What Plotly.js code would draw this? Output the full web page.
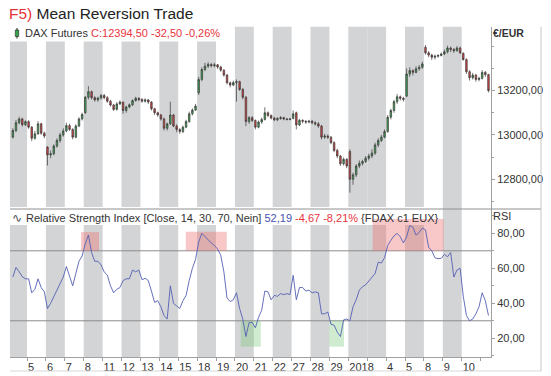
<!DOCTYPE html>
<html>
<head>
<meta charset="utf-8">
<script src="https://cdn.plot.ly/plotly-3.0.1.min.js"></script>
<style>html,body{margin:0;padding:0;background:#fff;}#chart{width:551px;height:376px;}</style>
</head>
<body>
<div id="chart"></div>
<script>
// ---- data ----
// session days (Dec 4 2017 ... Jan 11 2018); label shown on axis ('' = no label)
const dayLabels = ['','5','6','7','8','11','12','13','14','15','18','19','20','21','22','27','28','29','2018','','4','5','8','9','10',''];
// alternating session shading (1 = grey)
const shadedDay = [1,0,1,0,1,0,1,0,1,0,1,0,1,0,1,0,1,0,1,1,0,1,0,1,0,0];
const slotsPerDay = 6;
const firstSlot = 1;

const open = [
 12990,13020,13055,13072,13046,
 13060,13035,12985,13005,13050,13008,
 12945,12910,12915,12950,12975,13000,
 13018,13042,13025,12990,13040,13072,
 13100,13170,13195,13168,13158,13166,
 13178,13168,13152,13135,13115,13140,
 13148,13110,13126,13136,13155,13165,
 13160,13152,13158,13148,13118,13100,
 13090,13072,13030,13050,13090,13040,
 13025,13015,13035,13060,13095,13112,
 13190,13250,13295,13310,13318,13312,
 13316,13306,13292,13270,13235,13225,
 13236,13240,13205,13170,13060,13078,
 13065,13035,13058,13070,13100,13088,
 13076,13068,13074,13078,13072,13070,
 13075,13100,13045,13066,13062,13058,
 13062,13055,13050,13040,12990,12995,
 12990,12965,12930,12905,12870,12890,
 12925,12800,12820,12860,12872,12880,
 12895,12905,12918,12955,12975,12990,
 13015,13080,13110,13150,13172,13165,
 13175,13275,13290,13282,13298,13305,
 13395,13370,13360,13350,13355,13358,
 13365,13375,13392,13385,13380,13392,
 13368,13340,13285,13258,13270,13250,
 13255,13282,13272];
const high = [
 13030,13068,13082,13078,13066,
 13066,13040,13018,13062,13055,13015,
 12950,12930,12958,12985,13010,13030,
 13055,13050,13030,13048,13080,13100,
 13175,13220,13200,13175,13172,13185,
 13185,13175,13158,13140,13148,13156,
 13150,13132,13142,13160,13172,13170,
 13166,13165,13162,13152,13122,13105,
 13095,13078,13055,13150,13095,13048,
 13030,13042,13068,13105,13120,13140,
 13262,13305,13325,13328,13324,13325,
 13320,13312,13296,13275,13240,13245,
 13250,13245,13212,13175,13085,13085,
 13070,13065,13078,13125,13106,13092,
 13082,13080,13085,13082,13076,13076,
 13110,13105,13072,13070,13066,13068,
 13068,13062,13058,13045,13005,13002,
 12995,12972,12938,12910,12898,12895,
 12935,12830,12868,12885,12888,12905,
 12915,12935,12965,12985,13000,13025,
 13090,13118,13158,13185,13178,13172,
 13300,13305,13296,13310,13315,13330,
 13405,13378,13366,13362,13364,13372,
 13385,13402,13398,13392,13400,13398,
 13372,13345,13292,13280,13275,13262,
 13292,13288,13276];
const low = [
 12984,13012,13048,13038,13040,
 13028,12972,12978,13000,13000,12985,
 12862,12895,12908,12942,12965,12992,
 13012,13018,12980,12985,13035,13065,
 13095,13160,13160,13150,13150,13160,
 13160,13145,13128,13108,13110,13135,
 13095,13100,13120,13130,13150,13152,
 13145,13146,13140,13110,13090,13082,
 13065,13020,13020,13045,13035,13012,
 13005,13008,13030,13055,13088,13108,
 13180,13242,13288,13302,13305,13305,
 13298,13285,13262,13228,13215,13220,
 13150,13198,13160,13040,13050,13058,
 13025,13030,13050,13065,13080,13070,
 13062,13062,13068,13066,13065,13066,
 13070,13025,13040,13052,13050,13052,
 13048,13042,13032,12980,12982,12982,
 12958,12922,12895,12860,12862,12850,
 12740,12775,12810,12850,12862,12874,
 12885,12895,12910,12945,12968,12985,
 13010,13070,13100,13140,13155,13150,
 13170,13262,13268,13278,13290,13298,
 13362,13350,13338,13340,13348,13354,
 13360,13368,13374,13370,13375,13365,
 13335,13275,13245,13250,13240,13242,
 13250,13262,13192];
const close = [
 13020,13055,13072,13046,13060,
 13035,12985,13005,13050,13008,12995,
 12910,12915,12950,12975,13000,13018,
 13042,13025,12990,13040,13072,13092,
 13170,13195,13168,13158,13166,13178,
 13168,13152,13135,13115,13140,13148,
 13110,13126,13136,13155,13165,13160,
 13152,13158,13148,13118,13100,13090,
 13072,13030,13050,13090,13040,13025,
 13015,13035,13060,13095,13112,13130,
 13250,13295,13310,13318,13312,13316,
 13306,13292,13270,13235,13225,13236,
 13240,13205,13170,13060,13078,13065,
 13035,13058,13070,13100,13088,13076,
 13068,13074,13078,13072,13070,13072,
 13095,13045,13066,13062,13058,13062,
 13055,13050,13040,12990,12995,12990,
 12965,12930,12905,12870,12890,12860,
 12800,12820,12860,12872,12880,12895,
 12905,12918,12955,12975,12990,13015,
 13080,13110,13150,13172,13165,13160,
 13275,13290,13282,13298,13305,13320,
 13370,13360,13350,13355,13358,13365,
 13375,13392,13385,13380,13392,13370,
 13340,13285,13258,13270,13250,13255,
 13282,13272,13200];
const rsi = [
 55,60.5,58,55.2,54,
 54,46,48,54,49,46.6,
 37,40,44,48,52,55,
 61,56,50,57,64,67,
 74,79,69,64,64,62,
 58,56,50,46,48,49,
 53,54,54,59,58,59,
 53.5,54.3,53,47,40.5,41.5,
 38,33,31,50,40,38.5,
 37,41.5,44.5,53,60,65,
 75,80,78,76.5,74.5,73,
 71,67.5,58,43,41,42,
 46,37,31,21,29,29,
 26,32,36,47,46.6,42,
 44.5,44,45.5,45,45.5,45,
 56,42,49,49,47,47.5,
 46,46.5,46,34,34,35,
 28,27.5,23.5,21,30.5,31,
 30,38,42,47.5,49.5,50.5,
 52.5,54.5,57,63.5,63,66,
 73,76,78.5,80,78,74.5,
 78,84.5,83.5,79,80.5,83,
 82,72,70,66,65.5,65.7,
 68,66.6,69,55,59,60,
 44,33,30,31,34,38,
 46,41.5,33];
// RSI signal zones [startDay, endDay, rsiLevel]
const overbought = [[3.86,4.81,80.7],[9.40,11.57,80.9],[19.29,23.05,88.2]];
const oversold   = [[12.31,13.37,15.2],[16.99,17.77,15.2]];
const priceTicks = [12800,13000,13200];
const rsiTicks = [20,40,60,80];
const rsiBands = [30,70];

// ---- layout helpers ----
const W = 551, H = 376;
const X = px => px / W;
const Y = py => 1 - py / H;
const FONT = 'Arial, "Liberation Sans", sans-serif';
const fmt = v => v.toFixed(2).replace('.', ',');

const xs = close.map((_, i) => (firstSlot + i + 0.5) / slotsPerDay);

const traces = [
  {
    type: 'candlestick', x: xs, open: open, high: high, low: low, close: close,
    xaxis: 'x', yaxis: 'y', hoverinfo: 'skip', showlegend: false,
    increasing: {line: {color: '#3a3a3a', width: 0.7}, fillcolor: '#3fa552'},
    decreasing: {line: {color: '#3a3a3a', width: 0.7}, fillcolor: '#d84040'},
    whiskerwidth: 0
  },
  {
    type: 'scatter', mode: 'lines', x: xs, y: rsi, xaxis: 'x', yaxis: 'y2',
    line: {color: '#5560b4', width: 0.9}, hoverinfo: 'skip', showlegend: false
  }
];

const shapes = [];
shadedDay.forEach((s, d) => {
  if (s) shapes.push({type: 'rect', xref: 'x', yref: 'paper', x0: d, x1: d + 1,
    y0: Y(357), y1: Y(26.7), fillcolor: '#d3d4d6', line: {width: 0}, layer: 'below'});
});
// legend backgrounds
shapes.push({type: 'rect', xref: 'paper', yref: 'paper', x0: X(10), x1: X(232), y0: Y(41.5), y1: Y(26), fillcolor: '#ffffff', line: {width: 0}, layer: 'below'});
shapes.push({type: 'rect', xref: 'paper', yref: 'paper', x0: X(10), x1: X(440), y0: Y(225), y1: Y(207), fillcolor: '#ffffff', line: {width: 0}, layer: 'below'});
overbought.forEach(z => shapes.push({type: 'rect', xref: 'x', yref: 'y2', x0: z[0], x1: z[1], y0: 70, y1: z[2],
  fillcolor: 'rgba(236,110,110,0.38)', line: {width: 0}, layer: 'below'}));
oversold.forEach(z => shapes.push({type: 'rect', xref: 'x', yref: 'y2', x0: z[0], x1: z[1], y0: z[2], y1: 30,
  fillcolor: 'rgba(120,200,120,0.35)', line: {width: 0}, layer: 'below'}));
rsiBands.forEach(v => shapes.push({type: 'line', xref: 'paper', yref: 'y2', x0: X(10), x1: X(491), y0: v, y1: v,
  line: {color: '#8c8c8c', width: 1}, layer: 'below'}));
// panel separator and frame
shapes.push({type: 'line', xref: 'paper', yref: 'paper', x0: X(10), x1: X(541), y0: Y(209), y1: Y(209), line: {color: '#909090', width: 1}});
shapes.push({type: 'line', xref: 'paper', yref: 'paper', x0: X(541), x1: X(541), y0: Y(26.7), y1: Y(371), line: {color: '#c8c8c8', width: 1}});
shapes.push({type: 'line', xref: 'paper', yref: 'paper', x0: X(10), x1: X(541), y0: Y(371), y1: Y(371), line: {color: '#d8d8d8', width: 1}});
// candle legend icon
shapes.push({type: 'line', xref: 'paper', yref: 'paper', x0: X(17), x1: X(17), y0: Y(28), y1: Y(38.5), line: {color: '#222', width: 1}});
shapes.push({type: 'rect', xref: 'paper', yref: 'paper', x0: X(15.3), x1: X(18.7), y0: Y(36.5), y1: Y(30), fillcolor: '#37a24c', line: {color: '#222', width: 0.6}});

const annotations = [
  {xref: 'paper', yref: 'paper', x: X(22.5), y: Y(33.3), xanchor: 'left', yanchor: 'middle', showarrow: false,
   text: 'DAX Futures <span style="color:#e8333c">C:12394,50 -32,50 -0,26%</span>',
   font: {family: FONT, size: 11, color: '#333'}},
  {xref: 'paper', yref: 'paper', x: X(10), y: Y(218.3), xanchor: 'left', yanchor: 'middle', showarrow: false,
   text: '∿', font: {family: 'DejaVu Sans, sans-serif', size: 12, color: '#555'}},
  {xref: 'paper', yref: 'paper', x: X(23.5), y: Y(218.3), xanchor: 'left', yanchor: 'middle', showarrow: false,
   text: 'Relative Strength Index [Close, 14, 30, 70, Nein] <span style="color:#4652b0">52,19</span> <span style="color:#e8333c">-4,67 -8,21%</span> {FDAX c1 EUX}',
   font: {family: FONT, size: 11, color: '#333'}},
  {xref: 'paper', yref: 'paper', x: X(490.5), y: Y(33), xanchor: 'left', yanchor: 'middle', showarrow: false,
   text: '<b>€/EUR</b>', font: {family: FONT, size: 10.5, color: '#333'}},
  {xref: 'paper', yref: 'paper', x: X(491), y: Y(216), xanchor: 'left', yanchor: 'middle', showarrow: false,
   text: 'RSI', font: {family: FONT, size: 11, color: '#333'}}
];

const labelIdx = dayLabels.map((t, i) => t ? i : -1).filter(i => i >= 0);

const layout = {
  width: W, height: H,
  margin: {l: 0, r: 0, t: 0, b: 0, pad: 0},
  paper_bgcolor: '#ffffff', plot_bgcolor: 'rgba(0,0,0,0)',
  showlegend: false,
  font: {family: FONT, color: '#333'},
  title: {text: '<span style="color:#e5323b">F5)</span> Mean Reversion Trade',
    x: X(9), xanchor: 'left', xref: 'paper', y: Y(14), yanchor: 'middle', yref: 'paper',
    font: {family: FONT, size: 15.5, color: '#222'}},
  xaxis: {
    domain: [X(10), X(491)], range: [0.1, 25.55], anchor: 'y2',
    showline: true, linecolor: '#a0a0a0', linewidth: 1,
    ticks: 'outside', ticklen: 3, tickcolor: '#a0a0a0',
    tickmode: 'array', tickvals: labelIdx, ticktext: labelIdx.map(i => dayLabels[i]),
    ticklabelposition: 'outside right', tickangle: 0,
    tickfont: {family: FONT, size: 11, color: '#333'},
    minor: {tickmode: 'linear', tick0: 0, dtick: 1, ticks: 'outside', ticklen: 3, tickcolor: '#a0a0a0'},
    showgrid: false, zeroline: false, fixedrange: true,
    rangeslider: {visible: false}
  },
  yaxis: {
    domain: [Y(209), Y(26.7)], range: [12666, 13488], anchor: 'x', side: 'right',
    showline: true, linecolor: '#a0a0a0', linewidth: 1,
    ticks: 'outside', ticklen: 3, tickcolor: '#a0a0a0',
    tickmode: 'array', tickvals: priceTicks, ticktext: priceTicks.map(fmt),
    tickfont: {family: FONT, size: 11, color: '#333'},
    minor: {tickmode: 'linear', tick0: 12700, dtick: 100, ticks: 'outside', ticklen: 2, tickcolor: '#a0a0a0'},
    showgrid: false, zeroline: false, fixedrange: true
  },
  yaxis2: {
    domain: [Y(357), Y(209)], range: [9.3, 93.9], anchor: 'x', side: 'right',
    showline: true, linecolor: '#a0a0a0', linewidth: 1,
    ticks: 'outside', ticklen: 3, tickcolor: '#a0a0a0',
    tickmode: 'array', tickvals: rsiTicks, ticktext: rsiTicks.map(fmt),
    tickfont: {family: FONT, size: 11, color: '#333'},
    minor: {tickmode: 'linear', tick0: 10, dtick: 10, ticks: 'outside', ticklen: 2, tickcolor: '#a0a0a0'},
    showgrid: false, zeroline: false, fixedrange: true
  },
  shapes: shapes,
  annotations: annotations
};

Plotly.newPlot('chart', traces, layout, {displayModeBar: false, staticPlot: true});
</script>
</body>
</html>
